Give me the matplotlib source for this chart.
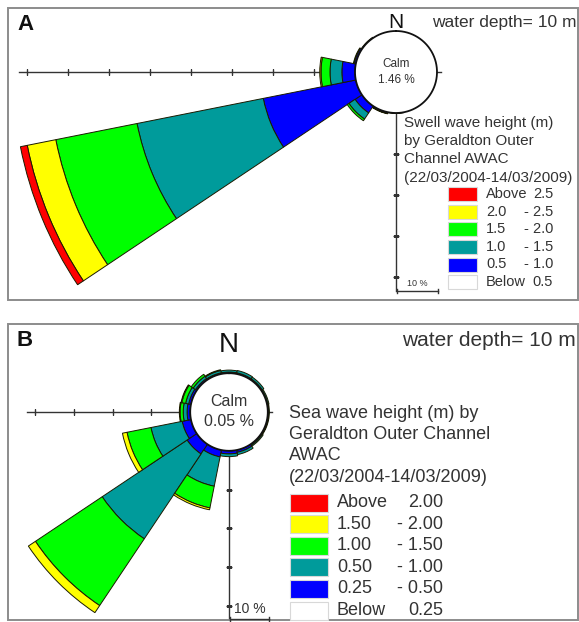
import numpy as np
import matplotlib
matplotlib.use("Agg")
import matplotlib.pyplot as plt
from matplotlib.patches import Rectangle
from matplotlib.lines import Line2D

plt.rcParams['font.family'] = ['Liberation Sans', 'DejaVu Sans']

W, H = 579, 622
fig = plt.figure(figsize=(W / 100, H / 100), dpi=100)

# direction sectors, clockwise from north: N, NNE, NE, ..., NNW
directions = np.arange(16) * 22.5

band_colors = ['#0000ff', '#009b9b', '#00ff00', '#ffff00', '#ff0000']

# A: swell wave height (m), % of time per direction sector
swell_calm = 1.46
swell_05_10 = [0, 0, 0, 0, 0, 0, 0, 0, 0.1, 0.3, 2.0, 23.0, 3.2, 0.4, 0.2, 0]
swell_10_15 = [0, 0, 0, 0, 0, 0, 0, 0, 0, 0.1, 1.8, 31.4, 2.9, 0.2, 0, 0]
swell_15_20 = [0, 0, 0, 0, 0, 0, 0, 0, 0, 0, 0.5, 20.2, 2.2, 0, 0, 0]
swell_20_25 = [0, 0, 0, 0, 0, 0, 0, 0, 0, 0, 0, 7.1, 0.3, 0, 0, 0]
swell_above_25 = [0, 0, 0, 0, 0, 0, 0, 0, 0, 0, 0, 1.7, 0, 0, 0, 0]
swell_labels = [('Above', '2.5'), ('2.0', '- 2.5'), ('1.5', '- 2.0'),
                ('1.0', '- 1.5'), ('0.5', '- 1.0'), ('Below', '0.5')]

# B: sea wave height (m)
sea_calm = 0.05
sea_025_05 = [0.3, 0.3, 0.3, 0.2, 0.2, 0.2, 0.3, 0.6, 0.8, 1.8, 3.0, 2.3, 0.8, 0.6, 0.4, 0.3]
sea_05_10 = [0.5, 0.6, 0.5, 0.3, 0.2, 0.2, 0.3, 0.6, 0.7, 7.7, 26.3, 8.2, 1.0, 0.8, 0.7, 0.6]
sea_10_15 = [0, 0, 0, 0, 0, 0, 0, 0, 0, 5.7, 20.7, 6.3, 0.8, 1.0, 0.6, 0.2]
sea_15_20 = [0, 0, 0, 0, 0, 0, 0, 0, 0, 0.5, 2.2, 1.2, 0.2, 0.2, 0, 0]
sea_above_20 = [0] * 16
sea_labels = [('Above', '2.00'), ('1.50', '- 2.00'), ('1.00', '- 1.50'),
              ('0.50', '- 1.00'), ('0.25', '- 0.50'), ('Below', '0.25')]


def fx(x):
    return x / W


def fy(y):
    return 1 - y / H


def rose(cx, cy, px10, rlim, bands, calm, west_len, south_len, calm_fs, calm_dy):
    r0 = 10.0  # calm circle radius, in % units
    rad = (rlim + r0) / 10 * px10
    ax = fig.add_axes([fx(cx - rad), fy(cy + rad), 2 * rad / W, 2 * rad / H],
                      projection='polar')
    ax.set_theta_zero_location('N')
    ax.set_theta_direction(-1)
    ax.set_ylim(0, rlim)
    ax.set_rorigin(-r0)
    ax.axis('off')
    ax.patch.set_alpha(0)

    theta = np.deg2rad(directions)
    width = np.deg2rad(22.5)
    bottom = np.zeros(16)
    for vals, col in zip(bands, band_colors):
        vals = np.array(vals, dtype=float)
        m = vals > 0
        ax.bar(theta[m], vals[m], width=width, bottom=bottom[m], color=col,
               edgecolor='#1a1a00', linewidth=0.7, zorder=2)
        bottom += vals

    # west and south axes with 10 % ticks
    ax.plot([1.5 * np.pi] * 2, [0, west_len], color='#333333', lw=1, zorder=1)
    wt = np.arange(10, west_len, 10)
    ax.plot([1.5 * np.pi] * len(wt), wt, ls='none', marker='|', ms=4,
            color='#333333', zorder=1)
    ax.plot([np.pi] * 2, [0, south_len], color='#333333', lw=1, zorder=1)
    st = np.arange(10, south_len, 10)
    ax.plot([np.pi] * len(st), st, ls='none', marker='_', ms=4,
            color='#333333', zorder=1)
    ax.plot([0.5 * np.pi] * 2, [0, 1], color='#333333', lw=1, zorder=1, clip_on=False)

    # calm circle
    t = np.linspace(0, 2 * np.pi, 361)
    ax.plot(t, np.zeros_like(t), color='#111111', lw=1.3, zorder=5, clip_on=False)
    fig.text(fx(cx), fy(cy - calm_dy), 'Calm', ha='center', va='center',
             fontsize=calm_fs, color='#333333')
    fig.text(fx(cx), fy(cy + calm_dy), f'{calm:.2f} %', ha='center', va='center',
             fontsize=calm_fs, color='#333333')
    return ax


def frame(x0, y0, x1, y1):
    fig.add_artist(Rectangle((fx(x0), fy(y1)), (x1 - x0) / W, (y1 - y0) / H,
                             transform=fig.transFigure, fill=False,
                             edgecolor='#8c8c8c', lw=1.4))


def scale_bar(x0, y, px10, ytext, fs):
    fig.add_artist(Line2D([fx(x0), fx(x0 + px10)], [fy(y), fy(y)],
                          transform=fig.transFigure, color='#333333', lw=1))
    for xx in (x0, x0 + px10):
        fig.add_artist(Line2D([fx(xx), fx(xx)], [fy(y - 2), fy(y + 2)],
                              transform=fig.transFigure, color='#333333', lw=1))
    fig.text(fx(x0 + px10 / 2), fy(ytext), '10 %', ha='center', va='center',
             fontsize=fs, color='#333333')


def legend(x, y0, pitch, sw_w, sw_h, labels, x1, x2, fs):
    cols = ['#ff0000', '#ffff00', '#00ff00', '#009b9b', '#0000ff', '#ffffff']
    for i, ((a, b), c) in enumerate(zip(labels, cols)):
        yc = y0 + i * pitch
        fig.add_artist(Rectangle((fx(x), fy(yc + sw_h / 2)), sw_w / W, sw_h / H,
                                 transform=fig.transFigure, facecolor=c,
                                 edgecolor='#d8d8d8', lw=0.8))
        fig.text(fx(x1), fy(yc), a, ha='left', va='center', fontsize=fs, color='#333333')
        fig.text(fx(x2), fy(yc), b, ha='right', va='center', fontsize=fs, color='#333333')


# ---------- panel A ----------
frame(8, 8, 578, 300)
rose(396, 72, 41, 90,
     [swell_05_10, swell_10_15, swell_15_20, swell_20_25, swell_above_25],
     swell_calm, 82, 43.5, 8.5, 8)
fig.text(fx(17), fy(25), 'A', ha='left', va='center', fontsize=16,
         fontweight='bold', color='#111111')
fig.text(fx(396), fy(23), 'N', ha='center', va='center', fontsize=15, color='#111111')
fig.text(fx(577), fy(27), 'water depth= 10 m', ha='right', va='baseline',
         fontsize=12.5, color='#333333')
for i, line in enumerate(['Swell wave height (m)', 'by Geraldton Outer',
                          'Channel AWAC', '(22/03/2004-14/03/2009)']):
    fig.text(fx(404), fy(123 + i * 18.2), line, ha='left', va='center',
             fontsize=11, color='#333333')
legend(448, 194.5, 17.5, 29, 14, swell_labels, 486, 553, 10.5)
scale_bar(397, 291, 41, 283, 6.5)

# ---------- panel B ----------
frame(8, 324, 578, 620)
rose(229, 412, 38.8, 60,
     [sea_025_05, sea_05_10, sea_10_15, sea_15_20, sea_above_20],
     sea_calm, 42, 43, 11.5, 10)
fig.text(fx(17), fy(340), 'B', ha='left', va='center', fontsize=16,
         fontweight='bold', color='#111111')
fig.text(fx(229), fy(345), 'N', ha='center', va='center', fontsize=20, color='#111111')
fig.text(fx(576), fy(346), 'water depth= 10 m', ha='right', va='baseline',
         fontsize=15, color='#333333')
for i, line in enumerate(['Sea wave height (m) by', 'Geraldton Outer Channel',
                          'AWAC', '(22/03/2004-14/03/2009)']):
    fig.text(fx(289), fy(413 + i * 21.5), line, ha='left', va='center',
             fontsize=13, color='#333333')
legend(290, 502.5, 21.6, 38, 18, sea_labels, 337, 443, 13)
scale_bar(230, 619, 38.8, 609, 10)

fig.savefig('out.png', dpi=100)
